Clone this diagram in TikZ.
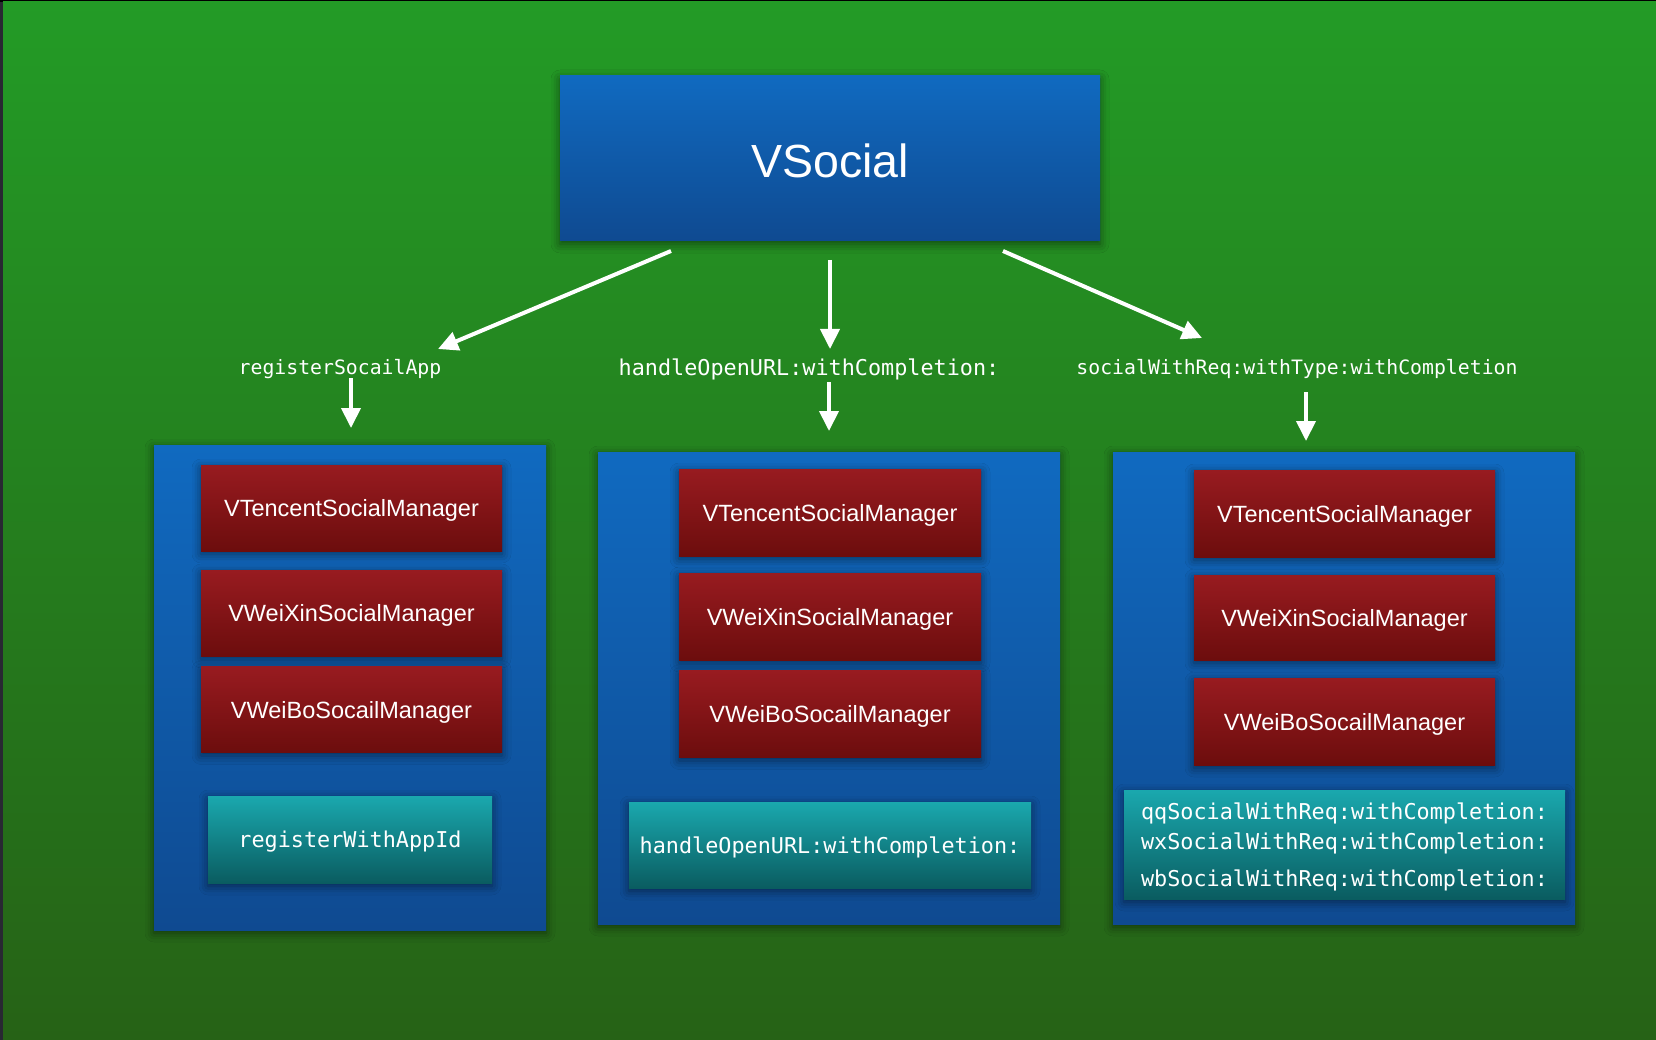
\documentclass[tikz,border=0pt]{standalone}
\usepackage{fontspec}
\setmainfont{Liberation Sans}
\setmonofont{DejaVu Sans Mono}
\usetikzlibrary{arrows.meta,shadows.blur}
\definecolor{bgtop}{RGB}{35,155,38}
\definecolor{bgbot}{RGB}{38,98,22}
\definecolor{edgec}{RGB}{40,40,50}
\definecolor{bluetop}{RGB}{16,106,192}
\definecolor{bluebot}{RGB}{15,74,145}
\definecolor{redtop}{RGB}{152,27,32}
\definecolor{redbot}{RGB}{108,13,13}
\definecolor{tealtop}{RGB}{26,168,174}
\definecolor{tealbot}{RGB}{10,92,96}
\begin{document}
\begin{tikzpicture}[x=1pt,y=1pt,
  shad/.style={blur shadow={shadow xshift=0pt,shadow yshift=-3pt,shadow blur radius=9pt,shadow opacity=50}},
  bluebox/.style={inner sep=0pt,top color=bluetop,bottom color=bluebot,shad},
  redbox/.style={inner sep=0pt,minimum width=301pt,minimum height=86pt,top color=redtop,bottom color=redbot,shad,text=white,text depth=0pt,font=\fontsize{23.5}{28}\selectfont},
  tealbox/.style={inner sep=0pt,top color=tealtop,bottom color=tealbot,shad,text=white,text depth=0pt,font=\ttfamily\fontsize{21.8}{30}\selectfont},
  lbl/.style={inner sep=0pt,text=white,font=\ttfamily\fontsize{19.8}{24}\selectfont},
  arr/.style={white,line width=4pt,-{Triangle[length=20pt,width=19pt]}}]
\useasboundingbox (0,0) rectangle (1656,-1040);
\fill[black] (0,0) rectangle (1656,-1040);
\fill[edgec] (0,-2) rectangle (3,-1040);
\shade[top color=bgtop,bottom color=bgbot] (3,-2) rectangle (1656,-1040);

% top box
\node[bluebox,minimum width=540pt,minimum height=165pt,text=white,text height=38pt,text depth=0pt,font=\fontsize{46.5}{50}\selectfont] (vs) at (830,-158.5) {VSocial};

% labels
\node[lbl] (l1) at (340,-369) {registerSocailApp};
\node[lbl,font=\ttfamily\fontsize{21.8}{26}\selectfont] (l2) at (809,-369) {handleOpenURL:withCompletion:};
\node[lbl] (l3) at (1297,-369) {socialWithReq:withType:withCompletion};

% panels
\node[bluebox,minimum width=392pt,minimum height=485pt] (p1) at (350,-687.5) {};
\node[bluebox,minimum width=462pt,minimum height=472pt] (p2) at (829,-688) {};
\node[bluebox,minimum width=462pt,minimum height=472pt] (p3) at (1344,-688) {};

% red boxes
\node[redbox] (t1) at (351.5,-508) {VTencentSocialManager};
\node[redbox] (w1) at (351.5,-613) {VWeiXinSocialManager};
\node[redbox] (b1) at (351.5,-709.5) {VWeiBoSocailManager};
\node[redbox,minimum width=302pt,minimum height=87pt] (t2) at (830,-512.5) {VTencentSocialManager};
\node[redbox,minimum width=302pt,minimum height=87pt] (w2) at (830,-616.5) {VWeiXinSocialManager};
\node[redbox,minimum width=302pt,minimum height=87pt] (b2) at (830,-714) {VWeiBoSocailManager};
\node[redbox,minimum height=87pt] (t3) at (1344.5,-513.5) {VTencentSocialManager};
\node[redbox,minimum height=85pt] (w3) at (1344.5,-617.5) {VWeiXinSocialManager};
\node[redbox,minimum height=87pt] (b3) at (1344.5,-721.5) {VWeiBoSocailManager};

% teal boxes
\node[tealbox,minimum width=284pt,minimum height=87pt] (r1) at (350,-839.5) {registerWithAppId};
\node[tealbox,minimum width=402pt,minimum height=86pt] (r2) at (830,-845) {handleOpenURL:withCompletion:};
\node[tealbox,minimum width=441pt,minimum height=109pt,align=left] (r3) at (1344.5,-844.5) {qqSocialWithReq:withCompletion:\\wxSocialWithReq:withCompletion:\\[7pt]wbSocialWithReq:withCompletion:};

% connector end points
\coordinate (s1) at (671,-251);
\coordinate (e1) at (438,-349);
\coordinate (s2) at (830,-260);
\coordinate (e2) at (830,-349);
\coordinate (s3) at (1003,-251);
\coordinate (e3) at (1202,-338);
\coordinate (d1s) at (351,-378);
\coordinate (d1e) at (351,-428);
\coordinate (d2s) at (829,-382);
\coordinate (d2e) at (829,-431);
\coordinate (d3s) at (1306,-392);
\coordinate (d3e) at (1306,-441);

\draw[arr] (s1) -- (e1);
\draw[arr] (s2) -- (e2);
\draw[arr] (s3) -- (e3);
\draw[arr] (d1s) -- (d1e);
\draw[arr] (d2s) -- (d2e);
\draw[arr] (d3s) -- (d3e);
\end{tikzpicture}
\end{document}
